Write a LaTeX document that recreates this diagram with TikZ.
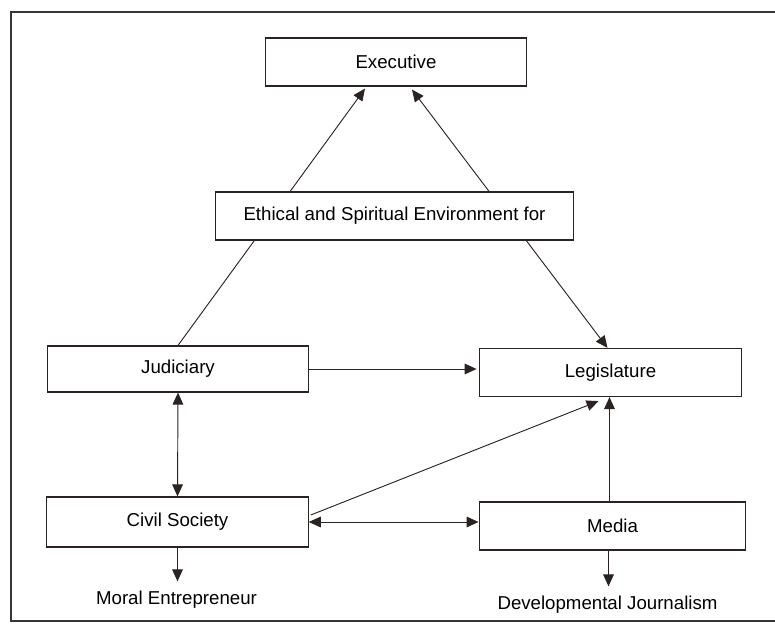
\documentclass[tikz,border=0pt]{standalone}
\usepackage{fontspec}
\setmainfont{Liberation Sans}
\definecolor{ink}{HTML}{2B2321}
\definecolor{frame}{HTML}{3A3433}
\usetikzlibrary{arrows.meta,calc,backgrounds}
\tikzset{
  box/.style={draw=ink,line width=0.9pt,fill=white,align=center,
              minimum width=196pt,minimum height=36pt,inner sep=2pt,
              font=\fontsize{14}{16}\selectfont},
  lbl/.style={inner xsep=2pt,inner ysep=7pt,font=\fontsize{14}{16}\selectfont},
  arr/.style={-{Triangle[length=9pt,width=8pt]},line width=0.7pt,draw=ink},
  darr/.style={{Triangle[length=9pt,width=8pt]}-{Triangle[length=9pt,width=8pt]},
               line width=0.7pt,draw=ink}
}
\begin{document}
\begin{tikzpicture}[x=0.75pt,y=-0.75pt]
    \useasboundingbox (0,0) rectangle (775,625);
    \draw[frame,line width=1.2pt] (780,12) -- (11,12) -- (11,621) -- (780,621);
    \node[box] (exe) at (396,62) {Executive};
    \node[box,minimum width=269pt] (eth) at (394.5,216) {Ethical and Spiritual Environment for};
    \node[box,minimum height=34.5pt] (jud) at (178,369) {Judiciary};
    \node[box] (leg) at (610.5,372.5) {Legislature};
    \node[box,minimum height=37.5pt] (civ) at (177.5,522) {Civil Society};
    \node[box,minimum width=200pt] (med) at (612.5,526) {Media};
    \node[lbl,anchor=base] (moral) at (176.5,604.5) {Moral Entrepreneur};
    \node[lbl,anchor=base] (dev) at (607.5,609.5) {Developmental Journalism};
    \begin{scope}[on background layer]
      \draw[arr] (jud.north) -- ($(exe.south)+(-31,2)$);
      \draw[darr] ($(leg.north)+(-3,0)$) -- ($(exe.south)+(16,3)$);
    \end{scope}
    \draw[arr,shorten >=2pt] (jud.east) -- (jud.east -| leg.west);
    \draw[darr] (jud.south) -- (civ.north);
    \draw[arr] ($(civ.east)+(2,-7)$) -- ($(leg.south)+(-12,4)$);
    \draw[darr] (civ.east) -- (civ.east -| med.west);
    \draw[arr] ($(med.north)+(-3,0)$) -- ($(med.north |- leg.south)+(-3,0)$);
    \draw[arr] (civ.south) -- (civ.south |- moral.north);
    \draw[arr] ($(med.south)+(-4,0)$) -- ($(med.south |- dev.north)+(-4,0)$);
\end{tikzpicture}
\end{document}
